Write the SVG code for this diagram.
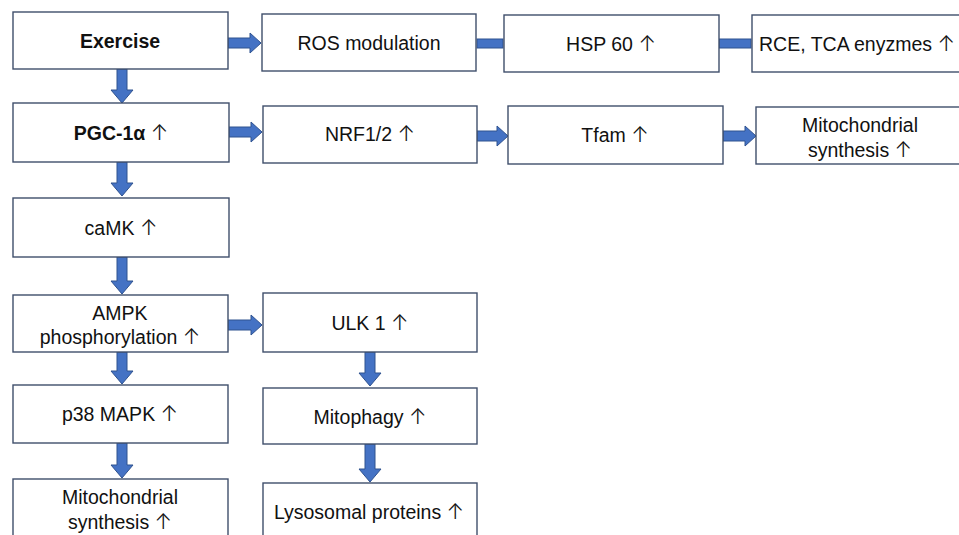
<svg xmlns="http://www.w3.org/2000/svg" width="959" height="535" viewBox="0 0 959 535">
<style>
.box{fill:#fff;stroke:#3f4f6b;stroke-width:1.4}
.t{font-family:"Liberation Sans",Arial,sans-serif;font-size:19.5px;fill:#111;text-anchor:middle}
.b{font-weight:bold}
.u{font-family:Inter,"Noto Sans CJK SC","DejaVu Sans",sans-serif;font-weight:300;font-size:21px;fill:#111}
.ar{fill:#4472c4;stroke:#2f528f;stroke-width:1}
</style>
<rect width="959" height="535" fill="#fff"/>
<g id="connectors">
<path class="ar" d="M228,38H250V33L261,43L250,53V48H228Z"/>
<path class="ar" d="M229,127H251V122L262,132L251,142V137H229Z"/>
<path class="ar" d="M477,131H497V126L508,136L497,146V141H477Z"/>
<path class="ar" d="M723,131H745V126L756,136L745,146V141H723Z"/>
<path class="ar" d="M228,320H251V315L262,325L251,335V330H228Z"/>
<rect class="ar" x="477" y="39" width="26" height="9"/>
<rect class="ar" x="719" y="39" width="32" height="9"/>
<path class="ar" d="M117,69V90H111L122,103L133,90H127V69Z"/>
<path class="ar" d="M117,162V183H111L122,196L133,183H127V162Z"/>
<path class="ar" d="M117,257V281H111L122,294L133,281H127V257Z"/>
<path class="ar" d="M117,352V371H111L122,384L133,371H127V352Z"/>
<path class="ar" d="M117,443V465H111L122,478L133,465H127V443Z"/>
<path class="ar" d="M365,352V373H359L370,386L381,373H375V352Z"/>
<path class="ar" d="M365,444V469H359L370,482L381,469H375V444Z"/>
</g>
<g id="exercise"><rect class="box" x="13" y="12" width="215" height="57"/><text class="t b" x="120" y="48">Exercise</text></g>
<g id="ros"><rect class="box" x="262" y="14" width="214" height="57"/><text class="t" x="369" y="50">ROS modulation</text></g>
<g id="hsp60"><rect class="box" x="504" y="15" width="215" height="57"/><text class="t" x="611" y="51">HSP 60 <tspan class="u">↑</tspan></text></g>
<g id="rce"><rect class="box" x="752" y="15" width="215" height="57"/><text class="t" x="857" y="51">RCE, TCA enyzmes <tspan class="u">↑</tspan></text></g>
<g id="pgc"><rect class="box" x="13" y="103" width="216" height="59"/><text class="t b" x="121" y="140">PGC-1α <tspan class="u">↑</tspan></text></g>
<g id="nrf"><rect class="box" x="263" y="106" width="214" height="57"/><text class="t" x="370" y="141">NRF1/2 <tspan class="u">↑</tspan></text></g>
<g id="tfam"><rect class="box" x="508" y="106" width="215" height="58"/><text class="t" x="615" y="142">Tfam <tspan class="u">↑</tspan></text></g>
<g id="mito1"><rect class="box" x="756" y="107" width="215" height="57"/><text class="t" x="860" y="132">Mitochondrial</text><text class="t" x="860" y="157">synthesis <tspan class="u">↑</tspan></text></g>
<g id="camk"><rect class="box" x="13" y="198" width="216" height="59"/><text class="t" x="121" y="235">caMK <tspan class="u">↑</tspan></text></g>
<g id="ampk"><rect class="box" x="13" y="295" width="215" height="57"/><text class="t" x="120" y="320">AMPK</text><text class="t" x="120" y="344">phosphorylation  <tspan class="u">↑</tspan></text></g>
<g id="ulk1"><rect class="box" x="263" y="293" width="214" height="59"/><text class="t" x="370" y="330">ULK 1 <tspan class="u">↑</tspan></text></g>
<g id="p38"><rect class="box" x="13" y="385" width="215" height="58"/><text class="t" x="120" y="421">p38 MAPK <tspan class="u">↑</tspan></text></g>
<g id="mitophagy"><rect class="box" x="263" y="388" width="214" height="56"/><text class="t" x="370" y="424">Mitophagy <tspan class="u">↑</tspan></text></g>
<g id="mito2"><rect class="box" x="13" y="479" width="215" height="70"/><text class="t" x="120" y="504">Mitochondrial</text><text class="t" x="120" y="529">synthesis <tspan class="u">↑</tspan></text></g>
<g id="lyso"><rect class="box" x="263" y="483" width="214" height="66"/><text class="t" x="369" y="519">Lysosomal proteins <tspan class="u">↑</tspan></text></g>
</svg>
